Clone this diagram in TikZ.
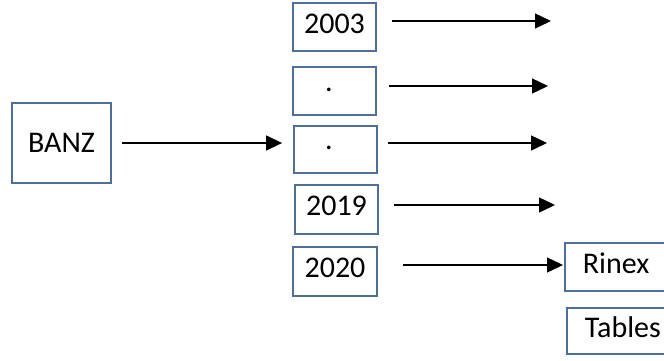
\documentclass[tikz,border=0pt]{standalone}
\usepackage{fontspec}
\setmainfont{Carlito}
\usetikzlibrary{arrows.meta}
\definecolor{boxblue}{HTML}{4F6F96}
\begin{document}
\begin{tikzpicture}[x=1pt,y=-1pt,
  box/.style={draw=boxblue,line width=1.8pt,rectangle,inner sep=0pt,
    font=\fontsize{30}{34}\selectfont,text height=19pt,text depth=7pt},
  dotbox/.style={box,text height=9pt,text depth=9pt},
  arr/.style={line width=1.4pt,-{Triangle[length=16pt,width=15pt]}}]
\useasboundingbox (0,0) rectangle (664,360);
\clip (0,0) rectangle (664,360);
\fill[white] (0,0) rectangle (664,360);
\node[box,minimum width=99pt,minimum height=80pt,text depth=0pt] (banz) at (61.5,143) {BANZ};
\node[box,minimum width=83pt,minimum height=48pt] (y03) at (334.5,27) {2003};
\node[dotbox,minimum width=83pt,minimum height=48pt] (d1) at (334.5,91) {\hspace*{-11pt}.};
\node[dotbox,minimum width=83pt,minimum height=47pt] (d2) at (335.5,149.5) {\hspace*{-13pt}.};
\node[box,minimum width=83pt,minimum height=49pt] (y19) at (336.5,209.5) {2019};
\node[box,minimum width=84pt,minimum height=49pt] (y20) at (335,271.5) {2020};
\node[box,anchor=west,minimum height=48pt,text width=110pt,align=left,inner xsep=18pt] (rinex) at (564,267) {Rinex};
\node[box,anchor=west,minimum height=46pt,text width=110pt,align=left,inner xsep=18pt] (tables) at (566,331) {Tables};
\coordinate (e1) at (551,21);
\coordinate (e2) at (548,86);
\coordinate (e3) at (547,143);
\coordinate (e4) at (555,205);
\draw[arr,shorten <=10pt,shorten >=11pt] (banz.east) -- (banz.east -| d2.west);
\draw[arr,shorten <=15pt] ([yshift=6pt]y03.east) -- (e1);
\draw[arr,shorten <=12pt] ([yshift=5pt]d1.east) -- (e2);
\draw[arr,shorten <=10pt] ([yshift=6.5pt]d2.east) -- (e3);
\draw[arr,shorten <=15pt] ([yshift=4.5pt]y19.east) -- (e4);
\draw[arr,shorten <=25pt,shorten >=1pt] ([yshift=6.5pt]y20.east) -- ([yshift=6.5pt]y20.east -| rinex.west);
\end{tikzpicture}
\end{document}
